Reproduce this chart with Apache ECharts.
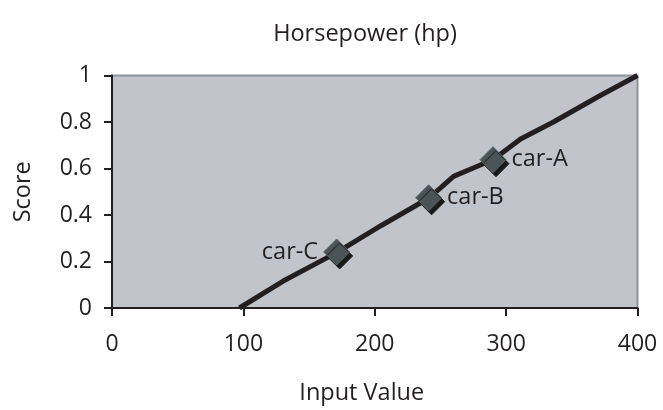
<!DOCTYPE html>
<html>
<head>
<meta charset="utf-8">
<script src="https://cdn.jsdelivr.net/npm/echarts@6/dist/echarts.min.js"></script>
<style>
html,body{margin:0;padding:0;background:#fff;}
#chart{width:663px;height:410px;}
</style>
</head>
<body>
<div id="chart"></div>
<script>
const titleText = 'Horsepower (hp)';
const xName = 'Input Value';
const yName = 'Score';
const lineX = [97, 130, 171, 205, 241, 260, 275, 290, 311, 336, 372, 400];
const lineY = [0, 0.115, 0.238, 0.355, 0.472, 0.566, 0.602, 0.638, 0.727, 0.8, 0.915, 1.0];
const carNames = ['car-A', 'car-B', 'car-C'];
const carX = [290, 241, 171];
const carY = [0.638, 0.474, 0.241];
const labelSide = ['right', 'right', 'left'];

const FONT = '"Open Sans", sans-serif';
const TXT = '#231f20';

const chart = echarts.init(document.getElementById('chart'), null, {renderer: 'canvas'});
chart.setOption({
  animation: false,
  backgroundColor: '#ffffff',
  title: {
    text: titleText, left: 360, top: 17, textAlign: 'center',
    textStyle: {fontFamily: FONT, fontSize: 23.5, fontWeight: 'normal', color: TXT}
  },
  grid: {
    left: 112, right: 25.5, top: 75.5, bottom: 101,
    show: true, backgroundColor: '#c1c4cb', borderColor: '#8d9499', borderWidth: 2
  },
  xAxis: {
    type: 'value', min: 0, max: 400, interval: 100,
    name: xName, nameLocation: 'middle', nameGap: 73,
    nameTextStyle: {fontFamily: FONT, fontSize: 23.5, color: TXT, padding: [0, 26, 0, 0]},
    axisLine: {show: true, lineStyle: {color: TXT, width: 2}},
    axisTick: {show: true, length: 8, lineStyle: {color: TXT, width: 2}},
    axisLabel: {fontFamily: FONT, fontSize: 23, color: TXT, margin: 25},
    splitLine: {show: false}
  },
  yAxis: {
    type: 'value', min: 0, max: 1, interval: 0.2,
    name: yName, nameLocation: 'middle', nameGap: 77, nameRotate: 90,
    nameTextStyle: {fontFamily: FONT, fontSize: 23.5, color: TXT},
    axisLine: {show: true, lineStyle: {color: TXT, width: 2}},
    axisTick: {show: true, length: 8, lineStyle: {color: TXT, width: 2}},
    axisLabel: {fontFamily: FONT, fontSize: 23, color: TXT, margin: 20},
    splitLine: {show: false}
  },
  series: [
    {
      type: 'line',
      data: lineX.map((x, i) => [x, lineY[i]]),
      showSymbol: false, symbol: 'none',
      lineStyle: {color: TXT, width: 5},
      z: 2
    },
    {
      type: 'scatter',
      data: carX.map((x, i) => ({
        value: [x, carY[i]], name: carNames[i],
        label: {position: labelSide[i]}
      })),
      symbol: 'diamond', symbolSize: 26,
      itemStyle: {
        color: '#4a5456', borderColor: '#5d6769', borderWidth: 1,
        shadowColor: '#1a1a1a', shadowBlur: 0, shadowOffsetX: 3, shadowOffsetY: 4, opacity: 1
      },
      label: {
        show: true, formatter: p => p.name, distance: 5,
        fontFamily: FONT, fontSize: 23.5, color: TXT
      },
      z: 3
    }
  ]
});
</script>
</body>
</html>
